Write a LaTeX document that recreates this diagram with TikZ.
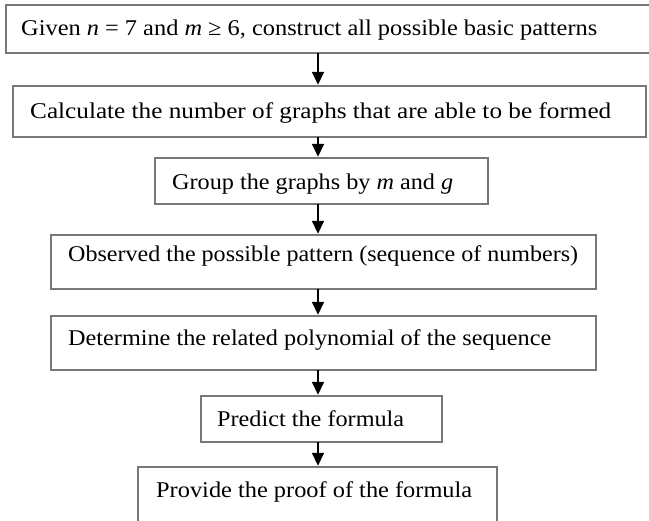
\documentclass[tikz,border=0pt]{standalone}
\usepackage{fontspec}
\setmainfont{Liberation Serif}
\usepackage{graphicx}
\usetikzlibrary{arrows.meta}
\tikzset{
  box/.style={draw=boxgray, line width=1.6pt, fill=white},
  lbl/.style={anchor=base west, inner sep=0pt, font=\fontsize{22.5}{27}\selectfont},
  flow/.style={line width=1.6pt, -{Triangle[length=13pt,width=12pt]}, shorten >=1pt}
}
\definecolor{boxgray}{RGB}{120,120,120}
\newcommand{\fitw}[2]{\resizebox{#1}{\height}{#2}}
\begin{document}
\begin{tikzpicture}[x=1pt,y=-1pt]
\useasboundingbox (0,0) rectangle (649,521);
\fill[white] (0,0) rectangle (649,521);
% boxes
\draw[box] (6,5) rectangle (655,53);
\node[inner sep=0, minimum width=649pt, minimum height=48pt] (b1) at (330.5,29) {};
\draw[box] (13,86) rectangle (646,137);
\node[inner sep=0, minimum width=633pt, minimum height=51pt] (b2) at (329.5,111.5) {};
\draw[box] (155,158) rectangle (488,204);
\node[inner sep=0, minimum width=333pt, minimum height=46pt] (b3) at (321.5,181) {};
\draw[box] (51,235) rectangle (596,289);
\node[inner sep=0, minimum width=545pt, minimum height=54pt] (b4) at (323.5,262) {};
\draw[box] (51,316) rectangle (596,370);
\node[inner sep=0, minimum width=545pt, minimum height=54pt] (b5) at (323.5,343) {};
\draw[box] (201,396) rectangle (442,442);
\node[inner sep=0, minimum width=241pt, minimum height=46pt] (b6) at (321.5,419) {};
\draw[box] (138,467) rectangle (497,530);
\node[inner sep=0, minimum width=359pt, minimum height=63pt] (b7) at (317.5,498.5) {};
% texts
\node[lbl] (t1) at (21,36) {\fitw{576pt}{Given \textit{n} = 7 and \textit{m} ≥ 6, construct all possible basic patterns}};
\node[lbl] (t2) at (30,119) {\fitw{581pt}{Calculate the number of graphs that are able to be formed}};
\node[lbl] (t3) at (172,190) {\fitw{281pt}{Group the graphs by \textit{m} and \textit{g}}};
\node[lbl] (t4) at (68,262) {\fitw{510pt}{Observed the possible pattern (sequence of numbers)}};
\node[lbl] (t5) at (68,346) {\fitw{483pt}{Determine the related polynomial of the sequence}};
\node[lbl] (t6) at (217,427) {\fitw{187pt}{Predict the formula}};
\node[lbl] (t7) at (156,498) {\fitw{316pt}{Provide the proof of the formula}};
% connectors
\coordinate (ax) at (318,0);
\draw[flow] (b1.south -| ax) -- (b2.north -| ax);
\draw[flow] (b2.south -| ax) -- (b3.north -| ax);
\draw[flow] (b3.south -| ax) -- (b4.north -| ax);
\draw[flow] (b4.south -| ax) -- (b5.north -| ax);
\draw[flow] (b5.south -| ax) -- (b6.north -| ax);
\draw[flow] (b6.south -| ax) -- (b7.north -| ax);
\end{tikzpicture}
\end{document}
